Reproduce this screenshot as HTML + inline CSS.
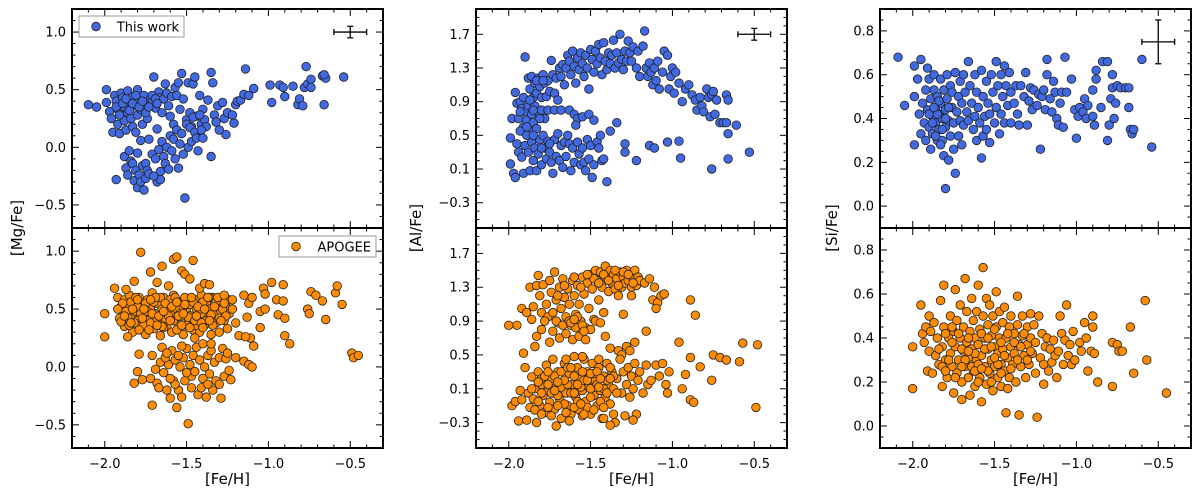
<!DOCTYPE html>
<html><head><meta charset="utf-8"><style>
body{margin:0;background:#fff;}
svg{display:block;font-family:"DejaVu Sans","Liberation Sans",sans-serif;}
</style></head><body>
<svg id="chart" width="1200" height="489" viewBox="0 0 1200 489" xmlns="http://www.w3.org/2000/svg"></svg>
<script>
const xTicks=[-2.0,-1.5,-1.0,-0.5];
const mgTicks=[-0.5,0.0,0.5,1.0];
const alTicks=[-0.3,0.1,0.5,0.9,1.3,1.7];
const siTicks=[0.0,0.2,0.4,0.6,0.8];
const mgTop=[-2.1,.37,-2.05,.35,-1.99,.5,-1.99,.39,-1.97,.31,-1.96,.25,-1.95,.13,-1.94,.45,-1.93,.4,-1.92,.33,-1.92,.2,-1.91,.12,-1.9,.47,-1.9,.28,-1.89,.43,-1.88,.35,-1.88,.23,-1.87,.15,-1.86,.49,-1.86,.3,-1.85,.4,-1.84,.25,-1.83,.44,-1.83,.18,-1.82,.36,-1.81,.13,-1.8,.5,-1.8,.28,-1.79,.41,-1.78,.33,-1.78,.06,-1.77,.2,-1.76,.45,-1.75,.37,-1.74,.25,-1.73,.07,-1.72,.42,-1.71,.4,-1.7,.61,-1.69,.34,-1.68,.16,-1.67,.48,-1.66,.43,-1.65,.3,-1.64,.42,-1.63,.55,-1.62,.47,-1.61,.36,-1.6,.27,-1.59,.44,-1.58,.2,-1.57,.52,-1.56,.45,-1.55,.56,-1.54,.33,-1.53,.64,-1.52,.42,-1.5,.24,-1.49,.56,-1.48,.3,-1.47,.18,-1.46,.55,-1.45,.61,-1.44,.27,-1.43,.1,-1.42,.45,-1.41,.2,-1.4,.33,-1.39,.24,-1.38,.18,-1.37,.41,-1.35,.65,-1.34,.56,-1.33,.28,-1.32,.22,-1.31,.36,-1.3,.15,-1.28,.39,-1.27,.25,-1.26,.11,-1.25,.3,-1.22,.28,-1.21,.21,-1.2,.37,-1.19,.4,-1.17,.41,-1.15,.46,-1.14,.68,-1.12,.45,-1.09,.51,-0.99,.54,-0.98,.39,-0.93,.54,-0.91,.52,-0.9,.44,-0.85,.53,-0.82,.37,-0.81,.42,-0.79,.36,-0.78,.52,-0.77,.7,-0.76,.55,-0.74,.59,-0.74,.52,-0.67,.62,-0.66,.37,-0.65,.6,-0.54,.61,-0.66,.63,-1.93,-.28,-1.88,-.08,-1.87,-.18,-1.86,-.24,-1.85,-.03,-1.84,-.12,-1.83,-.14,-1.82,-.29,-1.81,-.2,-1.8,-.35,-1.8,-.05,-1.79,-.24,-1.78,-.3,-1.77,-.16,-1.76,-.37,-1.75,-.27,-1.75,-.14,-1.74,-.2,-1.73,-.23,-1.71,-.06,-1.69,-.1,-1.68,-.3,-1.67,-.02,-1.66,-.21,-1.65,.05,-1.64,-.08,-1.63,-.14,-1.62,0,-1.61,-.19,-1.6,.1,-1.59,-.03,-1.58,.07,-1.57,-.1,-1.56,.15,-1.55,-.18,-1.54,.03,-1.53,.12,-1.52,-.06,-1.51,-.44,-1.5,.2,-1.49,0,-1.48,.17,-1.47,.05,-1.46,.26,-1.45,.13,-1.44,.08,-1.43,-.03,-1.42,.28,-1.41,.15,-1.4,.08,-1.35,-.08,-1.66,-.28,-1.7,-.25];
const mgTopCore=[-1.93,.35,-1.91,.28,-1.89,.38,-1.87,.42,-1.85,.32,-1.83,.38,-1.81,.45,-1.79,.35,-1.77,.4,-1.75,.3,-1.73,.35,-1.71,.45,-1.69,.42,-1.68,.38];
const mgBot=[-1.92,.6,-1.9,.52,-1.89,.45,-1.88,.58,-1.87,.38,-1.86,.5,-1.85,.62,-1.84,.44,-1.83,.3,-1.82,.55,-1.81,.48,-1.8,.4,-1.79,.6,-1.78,.35,-1.77,.52,-1.76,.45,-1.75,.28,-1.74,.58,-1.73,.4,-1.72,.5,-1.71,.64,-1.7,.33,-1.69,.46,-1.68,.55,-1.67,.38,-1.66,.27,-1.65,.5,-1.64,.6,-1.63,.42,-1.62,.35,-1.61,.53,-1.6,.46,-1.59,.3,-1.58,.62,-1.57,.4,-1.56,.5,-1.55,.36,-1.54,.56,-1.53,.44,-1.52,.28,-1.51,.6,-1.5,.48,-1.49,.38,-1.48,.54,-1.47,.42,-1.46,.32,-1.45,.58,-1.44,.5,-1.43,.4,-1.42,.3,-1.41,.62,-1.4,.46,-1.39,.36,-1.38,.55,-1.37,.42,-1.36,.5,-1.35,.28,-1.34,.6,-1.33,.45,-1.32,.38,-1.31,.52,-1.3,.3,-1.29,.48,-1.28,.58,-1.27,.4,-1.26,.52,-1.25,.33,-1.24,.46,-1.22,.5,-1.2,.38,-1.18,.27,-1.91,.42,-1.88,.35,-1.86,.43,-1.84,.56,-1.82,.38,-1.8,.52,-1.78,.46,-1.76,.36,-1.74,.48,-1.72,.38,-1.7,.56,-1.68,.42,-1.66,.6,-1.64,.34,-1.62,.48,-1.6,.58,-1.58,.4,-1.56,.32,-1.54,.46,-1.52,.52,-1.5,.36,-1.48,.44,-1.46,.56,-1.44,.36,-1.42,.5,-1.4,.56,-1.38,.4,-1.36,.6,-1.34,.36,-1.32,.56,-1.3,.42,-1.28,.5,-1.26,.44,-1.24,.58,-1.94,.68,-1.87,.67,-1.82,.74,-1.78,.99,-1.72,.82,-1.68,.73,-1.65,.87,-1.61,.7,-1.58,.93,-1.56,.95,-1.53,.83,-1.51,.8,-1.48,.76,-1.46,.92,-1.42,.68,-1.39,.72,-1.36,.71,-1.31,.6,-1.27,.62,-1.22,.58,-1.15,.62,-1.12,.55,-1.1,.6,-1.05,.48,-1.03,.68,-1.02,.63,-0.98,.73,-0.95,.58,-0.94,.45,-0.91,.71,-0.91,.57,-0.9,.42,-0.9,.27,-0.87,.2,-0.76,.5,-0.75,.46,-0.74,.65,-0.71,.62,-0.67,.57,-0.65,.41,-0.59,.64,-0.58,.7,-0.55,.54,-0.49,.12,-0.48,.08,-0.45,.1,-2.0,.46,-2.0,.26,-1.9,.39,-1.86,.26,-1.13,.43,-1.11,.25,-1.09,.18,-1.05,.34,-1.02,.5,-1.14,.26,-1.79,.11,-1.8,-.04,-1.77,-.11,-1.82,-.14,-1.72,-.1,-1.71,.1,-1.69,-.02,-1.68,-.14,-1.67,-.18,-1.66,.04,-1.65,.17,-1.64,-.05,-1.62,-.2,-1.61,.02,-1.6,-.27,-1.59,.14,-1.58,-.12,-1.57,.06,-1.56,-.35,-1.55,-.2,-1.54,0,-1.53,-.26,-1.52,.08,-1.51,-.12,-1.5,.16,-1.49,-.49,-1.48,.02,-1.47,-.08,-1.46,.1,-1.45,-.04,-1.44,.17,-1.43,-.24,-1.42,.06,-1.41,-.18,-1.4,.2,-1.39,0,-1.38,-.26,-1.37,.1,-1.36,-.06,-1.35,.14,-1.34,-.2,-1.33,.04,-1.32,-.12,-1.3,.08,-1.29,-.27,-1.28,.16,-1.27,-.08,-1.26,.07,-1.24,-.03,-1.23,-.11,-1.2,.08,-1.15,.05,-1.12,.02,-1.1,0,-1.71,-.33,-1.63,.08,-1.57,-.15];
const mgBotCore=[-1.89,.55,-1.87,.48,-1.85,.36,-1.83,.5,-1.81,.6,-1.79,.32,-1.77,.42,-1.75,.55,-1.73,.32,-1.71,.46,-1.69,.6,-1.67,.44,-1.65,.35,-1.63,.55,-1.61,.44,-1.59,.52,-1.57,.6,-1.55,.44,-1.53,.36,-1.51,.54,-1.49,.43,-1.47,.6,-1.45,.4,-1.43,.52,-1.41,.38,-1.39,.5,-1.37,.6,-1.35,.45,-1.33,.52,-1.29,.4,-1.27,.55,-1.92,.5,-1.88,.44,-1.84,.38,-1.8,.58,-1.76,.5,-1.72,.58,-1.68,.36,-1.64,.48,-1.6,.4,-1.56,.56,-1.52,.46,-1.48,.34,-1.44,.44,-1.4,.34,-1.36,.4,-1.6,-.1,-1.55,.1,-1.5,-.05,-1.45,.25,-1.4,-.1,-1.35,.2,-1.3,-.15,-1.25,.12,-1.62,.12,-1.53,.18,-1.47,-.18,-1.37,-.15];
const alTop=[-1.9,1.43,-1.88,1.18,-1.87,1.05,-1.86,1.2,-1.85,.95,-1.84,1.12,-1.83,1.0,-1.82,1.18,-1.81,1.08,-1.8,.95,-1.79,1.22,-1.78,1.12,-1.77,.96,-1.76,1.15,-1.75,1.02,-1.74,1.39,-1.73,1.22,-1.72,1.0,-1.71,1.18,-1.7,.92,-1.69,1.3,-1.68,1.2,-1.67,1.34,-1.66,1.1,-1.65,1.3,-1.64,1.45,-1.63,1.38,-1.62,1.22,-1.61,1.5,-1.6,1.32,-1.59,1.12,-1.58,1.42,-1.57,1.28,-1.56,1.48,-1.55,1.35,-1.54,1.2,-1.53,1.45,-1.52,1.3,-1.51,1.05,-1.5,1.52,-1.49,1.4,-1.48,1.25,-1.47,1.5,-1.46,1.35,-1.45,1.58,-1.44,1.42,-1.43,1.22,-1.42,1.6,-1.41,1.38,-1.4,1.28,-1.39,1.48,-1.38,1.35,-1.37,1.45,-1.36,1.63,-1.35,1.3,-1.34,1.48,-1.33,1.36,-1.32,1.7,-1.31,1.4,-1.3,1.28,-1.29,1.5,-1.28,1.38,-1.27,1.62,-1.26,1.48,-1.25,1.38,-1.24,1.55,-1.22,1.3,-1.21,1.5,-1.2,1.2,-1.18,1.56,-1.17,1.74,-1.16,1.3,-1.15,1.2,-1.14,1.36,-1.13,1.25,-1.12,1.1,-1.11,1.3,-1.1,1.15,-1.09,1.38,-1.08,1.05,-1.06,1.25,-1.05,1.5,-1.03,1.45,-1.02,1.05,-1.01,1.2,-1.0,1.3,-0.99,1.0,-0.98,1.25,-0.96,1.12,-0.94,.9,-0.92,1.05,-0.9,1.1,-0.88,.98,-0.86,.92,-0.85,.8,-0.83,.95,-0.82,.85,-0.81,.78,-0.79,1.05,-0.78,.95,-0.77,.72,-0.76,.98,-0.75,1.02,-0.74,.75,-0.73,.92,-0.71,.65,-0.69,.65,-0.67,.65,-0.67,.98,-0.66,.92,-0.61,.62,-1.98,.7,-1.96,1.01,-1.95,.88,-1.94,.7,-1.93,.9,-1.92,.82,-1.91,.6,-1.9,.78,-1.89,.68,-1.88,.85,-1.87,.55,-1.86,.75,-1.85,.65,-1.84,.85,-1.83,.58,-1.82,.78,-1.8,.8,-1.78,.7,-1.76,.8,-1.72,.8,-1.68,.8,-1.63,.8,-1.6,.75,-1.58,.7,-1.55,.72,-1.51,.75,-1.48,.68,-1.34,.65,-1.38,.55,-1.99,.47,-1.99,.16,-1.97,.05,-1.96,0,-1.95,.4,-1.94,.3,-1.93,.55,-1.92,.24,-1.91,.05,-1.9,.38,-1.89,.5,-1.88,.3,-1.87,.08,-1.86,.42,-1.85,.2,-1.84,.35,-1.83,.08,-1.82,.28,-1.81,.45,-1.8,.15,-1.79,.5,-1.78,.35,-1.77,.22,-1.76,.43,-1.75,.3,-1.74,.18,-1.73,.05,-1.72,.45,-1.71,.25,-1.7,.52,-1.69,.2,-1.68,.38,-1.67,.12,-1.66,.42,-1.65,.25,-1.64,.5,-1.63,.4,-1.62,.08,-1.61,.35,-1.6,.18,-1.59,.62,-1.58,.42,-1.57,.28,-1.56,.15,-1.55,.35,-1.54,.18,-1.53,.08,-1.52,.45,-1.51,.22,-1.5,.38,-1.49,0,-1.48,.15,-1.46,.42,-1.45,.35,-1.44,.5,-1.43,.2,-1.42,.22,-1.4,-.05,-1.29,.4,-1.29,.3,-1.22,.2,-1.14,.38,-1.11,.35,-1.03,.42,-0.96,.43,-0.95,.23,-0.76,.1,-0.66,.22,-0.53,.3,-0.66,.52];
const alTopCore=[-1.93,.78,-1.91,.95,-1.89,.6,-1.87,.92,-1.85,.8,-1.83,1.15,-1.81,.7,-1.79,1.15,-1.85,.5,-1.8,.35,-1.75,.4];
const alBot=[-1.87,1.3,-1.85,1.07,-1.83,1.32,-1.82,1.44,-1.81,1.2,-1.8,1.0,-1.79,1.33,-1.77,1.1,-1.76,.95,-1.75,1.38,-1.74,1.24,-1.73,1.0,-1.72,1.48,-1.71,1.15,-1.7,.88,-1.69,1.3,-1.68,1.05,-1.67,1.4,-1.66,1.18,-1.65,.95,-1.64,1.28,-1.63,1.1,-1.62,.85,-1.61,1.38,-1.6,1.2,-1.59,.98,-1.58,1.32,-1.57,1.1,-1.56,.9,-1.55,1.42,-1.54,1.22,-1.53,.82,-1.52,1.35,-1.51,1.05,-1.5,1.45,-1.49,1.28,-1.48,.92,-1.47,1.5,-1.46,1.38,-1.45,1.15,-1.44,1.48,-1.43,1.3,-1.42,1.0,-1.41,1.55,-1.4,1.4,-1.39,1.25,-1.38,1.5,-1.37,1.35,-1.36,1.45,-1.35,1.28,-1.34,1.4,-1.33,1.2,-1.32,1.48,-1.31,1.3,-1.3,1.42,-1.29,1.35,-1.28,1.5,-1.27,1.38,-1.26,1.45,-1.25,1.3,-1.24,1.4,-1.23,1.5,-1.22,1.32,-1.21,1.42,-1.2,1.38,-1.17,1.35,-1.14,1.4,-1.12,1.15,-1.11,1.3,-1.09,1.12,-1.07,1.2,-1.05,1.22,-1.1,1.05,-0.89,1.15,-0.86,.97,-1.16,.78,-1.3,.98,-1.25,1.2,-1.83,.72,-1.8,.8,-1.78,.9,-1.75,.65,-1.73,.78,-1.71,.9,-1.69,.7,-1.67,.85,-1.65,.75,-1.63,.9,-1.61,.68,-1.59,.82,-1.57,.72,-1.55,.85,-1.53,.68,-1.5,.8,-1.47,.9,-1.44,.88,-1.41,.72,-1.38,.58,-1.33,.55,-1.31,.5,-1.28,.6,-1.26,.55,-1.23,.65,-1.95,.85,-1.92,1.05,-1.89,1.0,-1.86,.92,-1.84,.6,-1.98,-.1,-1.96,-.05,-1.94,-.28,-1.93,.08,-1.92,-.03,-1.91,.52,-1.9,.35,-1.89,-.27,-1.88,.05,-1.87,-.12,-1.86,.24,-1.85,-.02,-1.84,.1,-1.83,-.3,-1.82,.3,-1.81,-.1,-1.8,.15,-1.79,.02,-1.78,-.18,-1.77,.38,-1.76,.08,-1.75,-.06,-1.74,.22,-1.73,.45,-1.72,-.14,-1.71,.12,-1.7,.3,-1.69,-.02,-1.68,-.25,-1.67,.18,-1.66,.4,-1.65,.05,-1.64,-.1,-1.63,.28,-1.62,-.2,-1.61,.15,-1.6,.48,-1.59,0,-1.58,.35,-1.57,-.15,-1.56,.22,-1.55,.08,-1.54,.45,-1.53,-.05,-1.52,.3,-1.51,.12,-1.5,-.2,-1.49,.4,-1.48,.02,-1.47,.2,-1.46,-.1,-1.45,.35,-1.44,.08,-1.43,-.25,-1.42,.25,-1.41,0,-1.4,.4,-1.39,.15,-1.38,-.08,-1.37,.3,-1.36,.1,-1.35,-.3,-1.34,.22,-1.32,.45,-1.31,.05,-1.3,.3,-1.29,-.22,-1.28,.15,-1.27,.35,-1.26,0,-1.25,.25,-1.24,.1,-1.23,.4,-1.22,-.2,-1.21,.2,-1.2,.3,-1.18,.05,-1.16,.38,-1.15,.15,-1.13,.2,-1.1,.38,-1.08,.25,-1.06,.4,-1.04,.15,-1.03,.05,-1.02,.3,-1.86,.1,-1.82,-.05,-1.8,.22,-1.76,-.12,-1.74,.05,-1.72,.25,-1.7,.02,-1.68,.12,-1.66,-.08,-1.64,.15,-1.62,.05,-1.6,.25,-1.58,-.05,-1.56,.12,-1.54,.2,-1.52,-.12,-1.5,.1,-1.48,.28,-1.46,.15,-1.44,-.05,-1.42,.1,-1.4,.2,-1.38,.35,-1.36,.25,-1.34,.05,-0.96,.65,-0.94,.1,-0.92,.27,-0.89,-.03,-0.87,-.06,-0.89,.47,-0.83,.36,-0.76,.2,-0.75,.5,-0.71,.47,-0.67,.44,-0.59,.42,-0.57,.64,-0.49,-.12,-0.48,.62,-2.0,.85,-1.71,-.34,-1.63,-.28,-1.55,-.22,-1.38,-.33,-1.42,-.25,-1.24,-.27];
const alBotCore=[-1.84,-.15,-1.82,.18,-1.8,-.2,-1.78,.25,-1.76,.3,-1.74,-.22,-1.72,.08,-1.7,-.1,-1.68,.3,-1.66,.2,-1.64,.35,-1.62,.35,-1.6,-.12,-1.58,.15,-1.56,-.08,-1.54,-.2,-1.52,.2,-1.5,.28,-1.48,-.15,-1.46,.3,-1.44,.22,-1.42,-.12,-1.4,.05,-1.38,.22,-1.36,-.2,-1.8,.05,-1.76,.15,-1.7,.18,-1.65,-.18,-1.6,.05,-1.55,.3,-1.5,0,-1.45,.12,-1.65,.45,-1.55,.48,-1.45,.45,-1.48,1.4,-1.45,1.35,-1.42,1.45,-1.39,1.38,-1.35,1.5,-1.33,1.32,-1.3,1.48,-1.27,1.45,-1.24,1.35,-1.52,1.45,-1.56,1.3,-1.6,1.42,-1.66,1.32,-1.7,1.2,-1.62,.88,-1.58,.95,-1.54,.78,-1.6,.92];
const siTop=[-2.09,.68,-2.05,.46,-1.99,.64,-1.99,.5,-1.99,.28,-1.97,.58,-1.96,.42,-1.95,.67,-1.95,.33,-1.94,.47,-1.93,.38,-1.92,.53,-1.92,.3,-1.91,.63,-1.91,.44,-1.9,.36,-1.9,.58,-1.89,.49,-1.89,.26,-1.88,.41,-1.88,.33,-1.87,.53,-1.87,.6,-1.86,.45,-1.86,.38,-1.85,.3,-1.85,.5,-1.84,.42,-1.84,.35,-1.83,.58,-1.83,.47,-1.82,.4,-1.82,.3,-1.81,.53,-1.81,.23,-1.8,.44,-1.8,.36,-1.8,.08,-1.79,.6,-1.79,.49,-1.78,.39,-1.78,.21,-1.77,.55,-1.77,.32,-1.76,.45,-1.76,.52,-1.75,.38,-1.75,.26,-1.74,.61,-1.74,.15,-1.73,.43,-1.72,.5,-1.72,.32,-1.71,.57,-1.71,.39,-1.7,.47,-1.7,.28,-1.69,.6,-1.69,.37,-1.68,.52,-1.67,.43,-1.66,.66,-1.66,.39,-1.65,.55,-1.64,.47,-1.63,.35,-1.62,.6,-1.62,.41,-1.61,.3,-1.61,.52,-1.6,.45,-1.59,.38,-1.58,.62,-1.58,.22,-1.57,.5,-1.57,.32,-1.56,.41,-1.55,.57,-1.55,.35,-1.54,.47,-1.53,.42,-1.53,.29,-1.52,.6,-1.51,.52,-1.5,.38,-1.49,.66,-1.49,.45,-1.48,.55,-1.47,.33,-1.46,.6,-1.46,.42,-1.45,.5,-1.44,.64,-1.44,.38,-1.43,.55,-1.42,.46,-1.41,.61,-1.4,.52,-1.4,.38,-1.38,.47,-1.37,.55,-1.36,.42,-1.35,.37,-1.34,.55,-1.32,.5,-1.31,.61,-1.3,.37,-1.29,.48,-1.28,.54,-1.27,.44,-1.26,.53,-1.24,.46,-1.23,.51,-1.22,.26,-1.21,.5,-1.2,.53,-1.19,.44,-1.18,.67,-1.18,.6,-1.16,.49,-1.15,.43,-1.14,.57,-1.13,.52,-1.12,.4,-1.11,.37,-1.1,.47,-1.09,.52,-1.08,.36,-1.07,.68,-1.06,.52,-1.03,.58,-1.01,.44,-1.0,.31,-0.99,.41,-0.98,.45,-0.96,.43,-0.95,.49,-0.94,.4,-0.93,.46,-0.9,.53,-0.9,.41,-0.89,.37,-0.88,.62,-0.88,.58,-0.85,.45,-0.84,.66,-0.81,.66,-0.81,.3,-0.8,.37,-0.79,.49,-0.78,.6,-0.78,.54,-0.77,.4,-0.76,.47,-0.75,.55,-0.73,.54,-0.7,.54,-0.68,.54,-0.68,.45,-0.67,.35,-0.66,.33,-0.65,.35,-0.6,.67,-0.54,.27];
const siTopCore=[-1.9,.42,-1.88,.38,-1.86,.32,-1.84,.48,-1.82,.35,-1.8,.4,-1.78,.45,-1.85,.42,-1.83,.28,-1.87,.45];
const siBot=[-2.0,.36,-2.0,.17,-1.95,.55,-1.94,.42,-1.93,.38,-1.92,.45,-1.91,.25,-1.9,.5,-1.9,.34,-1.89,.43,-1.88,.24,-1.87,.47,-1.86,.32,-1.85,.4,-1.84,.28,-1.83,.57,-1.82,.36,-1.82,.18,-1.81,.64,-1.81,.45,-1.8,.3,-1.79,.22,-1.78,.4,-1.77,.5,-1.77,.33,-1.76,.27,-1.75,.43,-1.75,.15,-1.74,.62,-1.74,.36,-1.73,.48,-1.73,.24,-1.72,.3,-1.71,.55,-1.71,.4,-1.7,.2,-1.7,.12,-1.69,.34,-1.69,.45,-1.68,.67,-1.68,.27,-1.67,.38,-1.67,.52,-1.66,.22,-1.66,.31,-1.65,.43,-1.65,.14,-1.64,.58,-1.64,.35,-1.63,.25,-1.63,.48,-1.62,.4,-1.62,.18,-1.61,.3,-1.61,.52,-1.6,.64,-1.6,.37,-1.59,.22,-1.59,.44,-1.58,.11,-1.58,.32,-1.57,.72,-1.57,.5,-1.56,.27,-1.56,.4,-1.55,.58,-1.55,.19,-1.54,.35,-1.54,.46,-1.53,.24,-1.53,.55,-1.52,.3,-1.52,.41,-1.51,.16,-1.51,.5,-1.5,.36,-1.5,.27,-1.49,.45,-1.49,.61,-1.48,.22,-1.48,.33,-1.47,.52,-1.47,.4,-1.46,.28,-1.46,.18,-1.45,.47,-1.45,.35,-1.44,.25,-1.44,.54,-1.43,.4,-1.43,.06,-1.42,.31,-1.42,.17,-1.41,.45,-1.41,.22,-1.4,.36,-1.4,.5,-1.39,.28,-1.38,.42,-1.38,.33,-1.37,.2,-1.36,.59,-1.36,.46,-1.35,.37,-1.35,.05,-1.34,.27,-1.33,.41,-1.33,.5,-1.32,.32,-1.31,.22,-1.3,.45,-1.3,.37,-1.29,.28,-1.28,.51,-1.28,.4,-1.27,.33,-1.26,.46,-1.25,.24,-1.25,.38,-1.24,.04,-1.23,.5,-1.22,.31,-1.21,.42,-1.2,.19,-1.2,.28,-1.19,.36,-1.18,.4,-1.17,.25,-1.16,.35,-1.15,.29,-1.14,.39,-1.13,.32,-1.12,.22,-1.11,.34,-1.1,.5,-1.09,.42,-1.08,.28,-1.07,.39,-1.06,.55,-1.05,.32,-1.04,.37,-1.03,.28,-1.02,.43,-1.01,.3,-0.98,.38,-0.97,.34,-0.95,.47,-0.94,.4,-0.93,.25,-0.91,.34,-0.9,.5,-0.9,.45,-0.89,.33,-0.87,.2,-0.78,.38,-0.78,.18,-0.75,.37,-0.74,.34,-0.72,.34,-0.67,.45,-0.65,.24,-0.58,.57,-0.57,.3,-0.45,.15];
const siBotCore=[-1.84,.35,-1.82,.27,-1.8,.42,-1.78,.3,-1.76,.38,-1.74,.22,-1.72,.42,-1.7,.35,-1.68,.3,-1.66,.4,-1.64,.27,-1.62,.33,-1.6,.28,-1.58,.42,-1.56,.35,-1.54,.25,-1.52,.36,-1.5,.44,-1.48,.28,-1.46,.38,-1.44,.32,-1.42,.42,-1.4,.26,-1.38,.38,-1.36,.3,-1.34,.36,-1.32,.42,-1.3,.3,-1.28,.34,-1.7,.27,-1.66,.34,-1.62,.25,-1.58,.26,-1.54,.4,-1.5,.31,-1.46,.24,-1.8,.25,-1.76,.45,-1.6,.2,-1.52,.2];
const errMg=[0.1,0.05], errAl=[0.1,0.07], errSi=[0.1,0.1];

const NS="http://www.w3.org/2000/svg";
const svg=document.getElementById('chart');
function mk(tag,attrs,parent){const e=document.createElementNS(NS,tag);for(const k in attrs)e.setAttribute(k,attrs[k]);(parent||svg).appendChild(e);return e;}
const BLUE="#4169e1", ORANGE="#ff8c00";
const cols=[
 {name:'mg',x0:72,x1:383,yr:[-0.7,1.2],ticks:mgTicks,minor:0.1,label:'[Mg/Fe]',lx:22,top:mgTop.concat(mgTopCore),bot:mgBot.concat(mgBotCore),err:errMg,ey:1.0},
 {name:'al',x0:476,x1:787,yr:[-0.6,2.0],ticks:alTicks,minor:0.1,label:'[Al/Fe]',lx:421,top:alTop.concat(alTopCore),bot:alBot.concat(alBotCore),err:errAl,ey:1.7},
 {name:'si',x0:880,x1:1191,yr:[-0.1,0.9],ticks:siTicks,minor:0.05,label:'[Si/Fe]',lx:837,top:siTop.concat(siTopCore),bot:siBot.concat(siBotCore),err:errSi,ey:0.75}];
const XR=[-2.2,-0.3];
function fmt(v){const s=Math.abs(v).toFixed(1);return (v<-1e-9?'\u2212':'')+s;}
cols.forEach(c=>{
  const sx=v=>c.x0+(v-XR[0])/(XR[1]-XR[0])*(c.x1-c.x0);
  [[9,228,'top'],[228,448,'bottom']].forEach(([yt,yb,pos],pi)=>{
    const sy=v=>yb-(v-c.yr[0])/(c.yr[1]-c.yr[0])*(yb-yt);
    const g=mk('g',{});
    
    
    const data=pi===0?c.top:c.bot;
    const pg=mk('g',{},g);
    
    
    for(let i=0;i<data.length;i+=2){
      const p=mk('circle',{cx:sx(data[i]).toFixed(1),cy:sy(data[i+1]).toFixed(1),r:4.3,fill:pi===0?BLUE:ORANGE,stroke:'#222','stroke-width':0.8},pg);
      
      
    }
    const tg=mk('g',{stroke:'#000','stroke-width':1},g);
    for(let v=-2.2;v<=-0.3+1e-9;v+=0.1){
      const x=sx(v);const major=xTicks.some(t=>Math.abs(t-v)<1e-6);const L=major?7:3.5;
      mk('line',{x1:x,x2:x,y1:yb,y2:yb-L},tg);mk('line',{x1:x,x2:x,y1:yt,y2:yt+L},tg);
    }
    const n=Math.round((c.yr[1]-c.yr[0])/c.minor);
    for(let k=0;k<=n;k++){
      const v=c.yr[0]+k*c.minor;const y=sy(v);
      const major=c.ticks.some(t=>Math.abs(t-v)<1e-6);const L=major?7:3.5;
      mk('line',{x1:c.x0,x2:c.x0+L,y1:y,y2:y},tg);mk('line',{x1:c.x1,x2:c.x1-L,y1:y,y2:y},tg);
    }
    c.ticks.forEach(t=>{
      const tx=mk('text',{x:c.x0-6,y:sy(t)+4.5,'text-anchor':'end','font-size':13,fill:'#000'},g);
      tx.textContent=fmt(t);
      
      
    });
    mk('rect',{x:c.x0,y:yt,width:c.x1-c.x0,height:yb-yt,fill:'none',stroke:'#000','stroke-width':2},g);
    if(pi===0){
      const eg=mk('g',{stroke:'#000','stroke-width':1.3},g);
      
      
      const ex=sx(-0.5),ey=sy(c.ey),dx=sx(-0.5+c.err[0])-ex,dy=ey-sy(c.ey+c.err[1]);
      mk('line',{x1:ex-dx,x2:ex+dx,y1:ey,y2:ey},eg);mk('line',{x1:ex,x2:ex,y1:ey-dy,y2:ey+dy},eg);
      mk('line',{x1:ex-dx,x2:ex-dx,y1:ey-3,y2:ey+3},eg);mk('line',{x1:ex+dx,x2:ex+dx,y1:ey-3,y2:ey+3},eg);
      mk('line',{x1:ex-3,x2:ex+3,y1:ey-dy,y2:ey-dy},eg);mk('line',{x1:ex-3,x2:ex+3,y1:ey+dy,y2:ey+dy},eg);
    }
  });
  xTicks.forEach(t=>{
    const tx=mk('text',{x:sx(t),y:468,'text-anchor':'middle','font-size':13,fill:'#000'});
    tx.textContent=fmt(t);
    
    
  });
  const xl=mk('text',{x:(c.x0+c.x1)/2,y:484,'text-anchor':'middle','font-size':15,fill:'#000'});
  xl.textContent='[Fe/H]';
  
  
  const yl=mk('text',{x:0,y:0,'text-anchor':'middle','font-size':15,fill:'#000',transform:`translate(${c.lx},228) rotate(-90)`});
  yl.textContent=c.label;
  
  
});
function legend(x,y,w,color,label,nm){
  const g=mk('g',{});
  
  
  mk('rect',{x:x,y:y,width:w,height:21,fill:'#fff',stroke:'#999','stroke-width':1},g);
  mk('circle',{cx:x+17,cy:y+10.5,r:4.3,fill:color,stroke:'#222','stroke-width':0.8},g);
  const t=mk('text',{x:x+w-5,y:y+15.5,'text-anchor':'end','font-size':13,fill:'#000'},g);
  t.textContent=label;
}
legend(79,16,105,BLUE,'This work','legend-this-work');
legend(279,236,97,ORANGE,'APOGEE','legend-apogee');
</script>
</body></html>
